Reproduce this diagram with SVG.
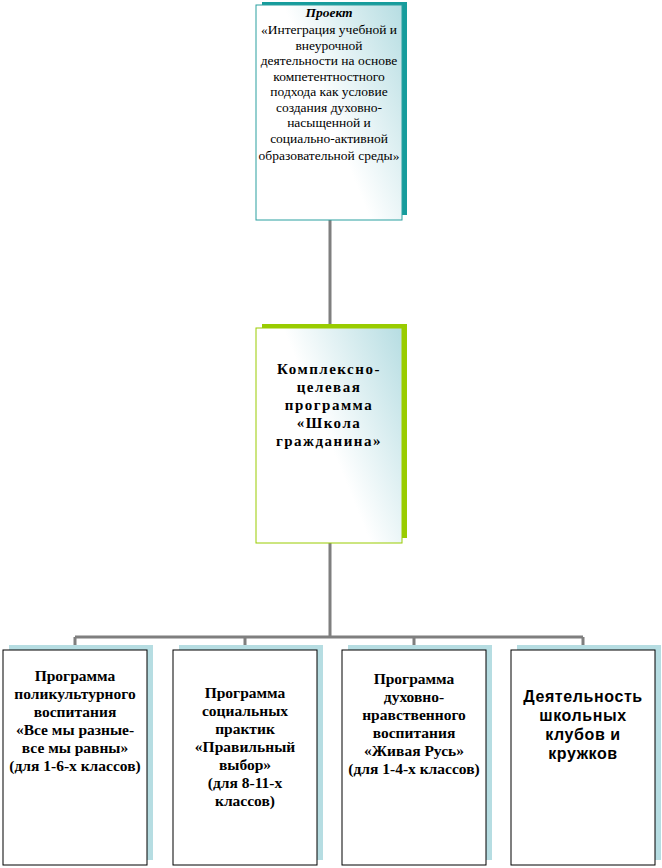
<svg xmlns="http://www.w3.org/2000/svg" width="662" height="868" viewBox="0 0 662 868">
<defs>
<linearGradient id="g" x1="1" y1="0" x2="0" y2="0.6">
<stop offset="0" stop-color="#b6dde2"/><stop offset="0.6" stop-color="#ffffff"/>
</linearGradient>
<style>
.c{stroke:#7f7f7f;stroke-width:3;fill:none}
.f{fill:url(#g);stroke:#2aa0a0;stroke-width:1}
.fg{fill:url(#g);stroke:#99cc00;stroke-width:1}
.fb{fill:#fff;stroke:#000;stroke-width:1}
.t{font-family:'Liberation Serif','Times New Roman','DejaVu Serif',serif;font-size:13.5px;text-anchor:middle;fill:#000}
.b{font-family:'Liberation Serif','Times New Roman','DejaVu Serif',serif;font-size:15.5px;font-weight:bold;text-anchor:middle;fill:#000}
.m{font-family:'Liberation Serif','Times New Roman','DejaVu Serif',serif;font-size:15px;font-weight:bold;letter-spacing:1.5px;text-anchor:middle;fill:#000}
.s{font-family:'Liberation Sans',Arial,'DejaVu Sans',sans-serif;font-size:16px;font-weight:bold;letter-spacing:0.6px;text-anchor:middle;fill:#000}
</style>
</defs>
<g id="connectors">
<path class="c" d="M330 220V328M330 543V637M75 637H583M75 637V646M245 637V646M414 637V646M583 637V646"/>
</g>
<g id="top">
<rect x="262" y="2" width="145" height="213" fill="#169c9c"/>
<rect class="f" x="256" y="5" width="146" height="215"/>
<text class="t" x="329" y="17" font-weight="bold" font-style="italic">Проект</text>
<text class="t" x="329" y="34">«Интеграция учебной и</text>
<text class="t" x="329" y="50">внеурочной</text>
<text class="t" x="329" y="65">деятельности на основе</text>
<text class="t" x="329" y="81">компетентностного</text>
<text class="t" x="329" y="96">подхода как условие</text>
<text class="t" x="329" y="112">создания духовно-</text>
<text class="t" x="329" y="127">насыщенной и</text>
<text class="t" x="329" y="143">социально-активной</text>
<text class="t" x="329" y="160">образовательной среды»</text>
</g>
<g id="middle">
<rect x="262" y="324" width="145" height="214" fill="#99cc00"/>
<rect class="fg" x="256" y="328" width="146" height="215"/>
<text class="m" x="329" y="374">Комплексно-</text>
<text class="m" x="329" y="392">целевая</text>
<text class="m" x="329" y="410">программа</text>
<text class="m" x="329" y="428">«Школа</text>
<text class="m" x="329" y="446">гражданина»</text>
</g>
<g id="b1">
<rect x="9" y="645" width="144" height="215" fill="#b6dde2"/>
<rect class="fb" x="3" y="650" width="144" height="215"/>
<text class="b" x="75" y="681">Программа</text>
<text class="b" x="75" y="699">поликультурного</text>
<text class="b" x="75" y="717">воспитания</text>
<text class="b" x="75" y="735">«Все мы разные-</text>
<text class="b" x="75" y="753">все мы равны»</text>
<text class="b" x="75" y="771">(для 1-6-х классов)</text>
</g>
<g id="b2">
<rect x="179" y="645" width="144" height="215" fill="#b6dde2"/>
<rect class="fb" x="173" y="650" width="144" height="215"/>
<text class="b" x="245" y="698">Программа</text>
<text class="b" x="245" y="716">социальных</text>
<text class="b" x="245" y="734">практик</text>
<text class="b" x="245" y="752">«Правильный</text>
<text class="b" x="245" y="770">выбор»</text>
<text class="b" x="245" y="788">(для 8-11-х</text>
<text class="b" x="245" y="806">классов)</text>
</g>
<g id="b3">
<rect x="348" y="645" width="144" height="215" fill="#b6dde2"/>
<rect class="fb" x="342" y="650" width="144" height="215"/>
<text class="b" x="414" y="684">Программа</text>
<text class="b" x="414" y="702">духовно-</text>
<text class="b" x="414" y="720">нравственного</text>
<text class="b" x="414" y="738">воспитания</text>
<text class="b" x="414" y="756">«Живая Русь»</text>
<text class="b" x="414" y="774">(для 1-4-х классов)</text>
</g>
<g id="b4">
<rect x="517" y="645" width="144" height="215" fill="#b6dde2"/>
<rect class="fb" x="511" y="650" width="144" height="215"/>
<text class="s" x="583" y="702">Деятельность</text>
<text class="s" x="583" y="721">школьных</text>
<text class="s" x="583" y="740">клубов и</text>
<text class="s" x="583" y="759">кружков</text>
</g>
</svg>
